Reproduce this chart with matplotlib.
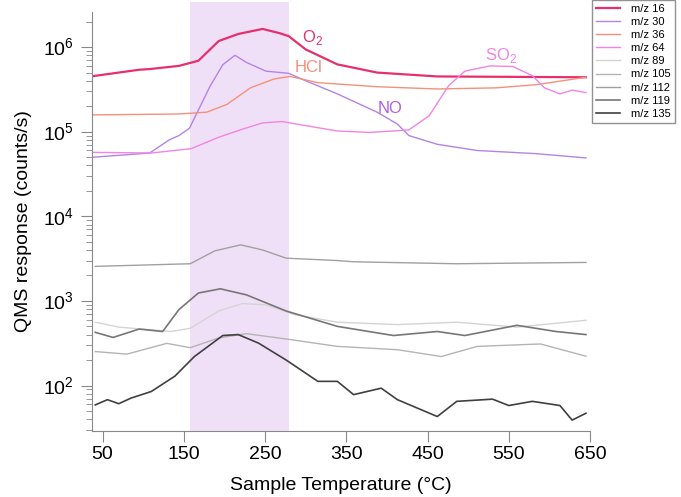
import matplotlib

matplotlib.use("Agg")

import matplotlib.pyplot as plt

plt.rcParams["font.family"] = ["Liberation Sans", "DejaVu Sans"]
plt.rcParams["mathtext.fontset"] = "custom"
plt.rcParams["mathtext.rm"] = "Liberation Sans"

# values (temperature in degC, counts/s)
t_16 = [39, 95, 108, 144, 168, 193, 217, 247, 268, 279, 300, 339, 388, 462, 645]
mz_16 = [4.55e5, 5.4e5, 5.5e5, 6.0e5, 6.9e5, 1.18e6, 1.43e6, 1.64e6, 1.46e6, 1.35e6, 9.4e5, 6.25e5,
         5.0e5, 4.5e5, 4.4e5]

t_30 = [39, 108, 132, 144, 157, 182, 198, 213, 227, 251, 279, 300, 339, 388, 413, 427, 462, 511, 584, 645]
mz_30 = [5.0e4, 5.6e4, 8.0e4, 9.0e4, 1.1e5, 3.4e5, 6.2e5, 8.0e5, 6.6e5, 5.2e5, 4.9e5, 4.0e5, 2.8e5,
         1.7e5, 1.23e5, 9.0e4, 7.1e4, 6.0e4, 5.5e4, 4.9e4]

t_36 = [39, 144, 178, 203, 232, 261, 281, 315, 388, 462, 535, 584, 645]
mz_36 = [1.58e5, 1.62e5, 1.7e5, 2.1e5, 3.3e5, 4.2e5, 4.5e5, 3.8e5, 3.4e5, 3.2e5, 3.3e5, 3.6e5, 4.4e5]

t_64 = [39, 110, 159, 193, 222, 247, 271, 300, 339, 379, 427, 452, 476, 496, 527, 555, 579, 594, 613, 628, 645]
mz_64 = [5.7e4, 5.6e4, 6.3e4, 8.6e4, 1.07e5, 1.27e5, 1.32e5, 1.18e5, 1.02e5, 9.8e4, 1.05e5, 1.54e5,
         3.5e5, 5.2e5, 6.0e5, 5.9e5, 4.6e5, 3.3e5, 2.8e5, 3.1e5, 2.9e5]

t_89 = [41, 70, 134, 158, 193, 222, 251, 286, 339, 413, 486, 560, 645]
mz_89 = [560, 490, 435, 475, 760, 930, 900, 690, 560, 525, 560, 490, 590]

t_105 = [41, 80, 129, 158, 193, 227, 276, 339, 413, 467, 511, 589, 645]
mz_105 = [252, 235, 315, 280, 365, 410, 355, 290, 265, 220, 290, 310, 222]

t_112 = [41, 158, 188, 220, 247, 276, 339, 359, 486, 645]
mz_112 = [2560, 2750, 3900, 4600, 4000, 3200, 3000, 2900, 2750, 2850]

t_119 = [41, 63, 95, 124, 144, 168, 195, 227, 276, 339, 408, 462, 496, 560, 608, 645]
mz_119 = [425, 370, 465, 435, 790, 1240, 1390, 1180, 760, 500, 390, 435, 390, 515, 435, 400]

t_135 = [41, 56, 70, 85, 110, 139, 163, 198, 217, 242, 276, 315, 339, 359, 393, 413, 462, 486,
         530, 550, 579, 613, 628, 645]
mz_135 = [59, 68, 61, 71, 85, 129, 220, 390, 400, 317, 200, 112, 112, 78, 93, 68, 43, 65,
          69, 58, 65, 58, 39, 47]

series = [
    ("m/z 16", t_16, mz_16, "#e6306c", 1.6),
    ("m/z 30", t_30, mz_30, "#b583e6", 1.0),
    ("m/z 36", t_36, mz_36, "#f4907c", 1.0),
    ("m/z 64", t_64, mz_64, "#f284e4", 1.0),
    ("m/z 89", t_89, mz_89, "#d4d4d4", 1.0),
    ("m/z 105", t_105, mz_105, "#b4b4b4", 1.0),
    ("m/z 112", t_112, mz_112, "#a0a0a0", 1.0),
    ("m/z 119", t_119, mz_119, "#777777", 1.2),
    ("m/z 135", t_135, mz_135, "#404040", 1.2),
]

labels = [("O$_2$", 309, 1.3e6, "#e6306c"), ("HCl", 304, 5.8e5, "#f4907c"),
          ("NO", 404, 1.87e5, "#b05ce6"), ("SO$_2$", 541, 8.0e5, "#f284e4")]

fig = plt.figure(figsize=(6.81, 4.97), dpi=100)
ax = fig.add_axes([92 / 681, 1 - 431 / 497, (590 - 92) / 681, (431 - 12) / 497])

span = ax.axvspan(158, 280, ymin=0, ymax=(431 - 2) / (431 - 12), color="#f0e0f7", lw=0, zorder=0)
span.set_clip_on(False)

for name, t, v, c, lw in series:
    ax.plot(t, v, color=c, lw=lw, label=name)

for txt, x, y, c in labels:
    ax.text(x, y, txt, color=c, fontsize=12, ha="center", va="center")

ax.set_yscale("log")
ax.set_xlim(37, 650)
ax.set_ylim(29, 2.6e6)
ax.set_xticks([50, 150, 250, 350, 450, 550, 650])
ax.set_yticks([1e2, 1e3, 1e4, 1e5, 1e6])
ax.set_yticklabels(["10$^2$", "10$^3$", "10$^4$", "10$^5$", "10$^6$"])

for s in ["top", "right"]:
    ax.spines[s].set_visible(False)
for s in ["left", "bottom"]:
    ax.spines[s].set_color("#888888")
ax.tick_params(which="both", colors="#888888", labelcolor="black", labelsize=14)
ax.tick_params(which="major", length=8, pad=3)
ax.tick_params(axis="y", which="major", pad=5)
ax.tick_params(which="minor", length=4)

ax.set_xlabel("Sample Temperature (°C)", fontsize=14, labelpad=10)
ax.set_ylabel("QMS response (counts/s)", fontsize=14, labelpad=8)

fig.legend(loc="upper left", bbox_to_anchor=(592 / 681, 1.0), fontsize=8, frameon=True,
           fancybox=False, edgecolor="#777777", handlelength=2.2, labelspacing=0.28,
           borderpad=0.35, handletextpad=1.0, borderaxespad=0)

fig.savefig("out.png", dpi=100)
